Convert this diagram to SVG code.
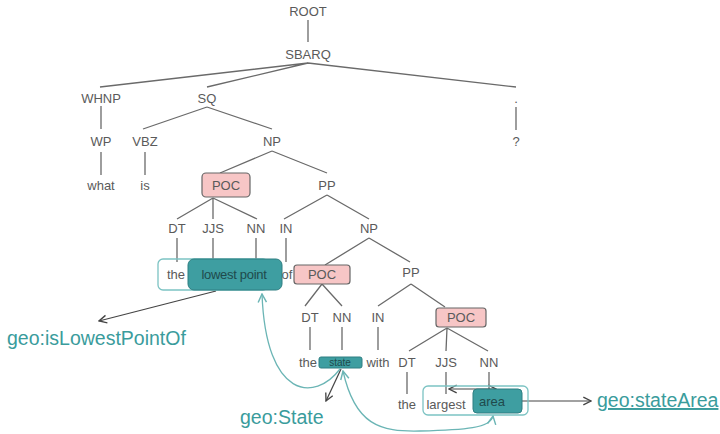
<svg xmlns="http://www.w3.org/2000/svg" width="720" height="434" viewBox="0 0 720 434">
<defs>
<style>
.t{font-family:"Liberation Sans",Arial,sans-serif;font-size:13px;fill:#5a5a5a;text-anchor:middle}
.e{stroke:#6a6a6a;stroke-width:1.3;fill:none}
.poc{fill:#f7c6c6;stroke:#666;stroke-width:1.2}
.tb{fill:#3e9ea1;stroke:#2f7f82;stroke-width:1}
.ob{fill:none;stroke:#7cc3c3;stroke-width:1.3}
.geo{font-family:"Liberation Sans",Arial,sans-serif;font-size:19.5px;fill:#3a9c9c}
.cv{fill:none;stroke:#6bb5b5;stroke-width:1.3}
.ar{fill:none;stroke:#444;stroke-width:1.2}
</style>
<marker id="ah" viewBox="0 0 10 10" refX="9" refY="5" markerWidth="8" markerHeight="8" orient="auto-start-reverse"><path d="M1,1 L9,5 L1,9" fill="none" stroke="#444" stroke-width="1.4"/></marker>
<marker id="ta" viewBox="0 0 10 10" refX="9" refY="5" markerWidth="8" markerHeight="8" orient="auto-start-reverse"><path d="M1,1 L9,5 L1,9" fill="none" stroke="#6bb5b5" stroke-width="1.4"/></marker>
</defs>
<rect width="720" height="434" fill="#fff"/>
<g id="connectors">
<path class="e" d="M308,20V42 M308,63L100,87 M308,63L207,87 M308,63L516,87 M101,106V129 M101,152V175 M207,107L143,129 M207,107L272,129 M145,152V175 M272,151L220,173 M272,151L327,173 M213,198L177,219 M213,198L213,219 M213,198L257,219 M327,195L284,219 M327,195L369,219 M177,238V262 M213,238V262 M256,238V262 M286,238V262 M369,238L325,265 M369,238L410,262 M322,284L305,306 M322,284L342,306 M310,327V350 M342,327V350 M411,284L378,306 M411,284L445,307 M378,327V350 M447,328L409,351 M447,328L446,351 M447,328L488,351 M407,372V394 M446,372V394 M489,372V394 M516,107V130"/>
<path class="ar" d="M216,291L99,321" marker-end="url(#ah)"/>
<path class="ar" d="M341,369L326,401" marker-end="url(#ah)"/>
<path class="ar" d="M522,401L591,401" marker-end="url(#ah)"/>
<path class="ar" d="M449,389L496,389" marker-start="url(#ah)" marker-end="url(#ah)"/>
<path class="cv" d="M340,369 C315,402 266,400 262,294" marker-end="url(#ta)"/>
<path class="cv" d="M343,371 C355,425 380,432 420,431 C465,430 491,428 493,416" marker-start="url(#ta)" marker-end="url(#ta)"/>
</g>
<g id="root"><text class="t" x="308" y="16">ROOT</text></g>
<g id="sbarq"><text class="t" x="308" y="59">SBARQ</text></g>
<g id="whnp"><text class="t" x="101" y="103">WHNP</text></g>
<g id="sq"><text class="t" x="207" y="103">SQ</text></g>
<g id="dot"><text class="t" x="516" y="103">.</text></g>
<g id="wp"><text class="t" x="101" y="146">WP</text></g>
<g id="vbz"><text class="t" x="145" y="146">VBZ</text></g>
<g id="np1"><text class="t" x="272" y="146">NP</text></g>
<g id="qm"><text class="t" x="516" y="146">?</text></g>
<g id="what"><text class="t" x="101" y="190">what</text></g>
<g id="is"><text class="t" x="145" y="190">is</text></g>
<g id="poc1"><rect class="poc" x="202" y="173" width="48" height="24" rx="4"/><text class="t" x="226" y="190">POC</text></g>
<g id="pp1"><text class="t" x="327" y="190">PP</text></g>
<g id="dt1"><text class="t" x="177" y="233">DT</text></g>
<g id="jjs1"><text class="t" x="213" y="233">JJS</text></g>
<g id="nn1"><text class="t" x="256" y="233">NN</text></g>
<g id="in1"><text class="t" x="286" y="233">IN</text></g>
<g id="np2"><text class="t" x="369" y="233">NP</text></g>
<g id="the1"><rect class="ob" x="158" y="259" width="110" height="31" rx="5"/><text class="t" x="176" y="279">the</text></g>
<g id="of"><text class="t" x="287" y="279">of</text></g>
<g id="lowestpoint"><rect class="tb" x="188" y="259" width="94" height="31" rx="6"/><text class="t" x="234" y="279" style="fill:#1f4a4c;letter-spacing:-0.3px">lowest point</text></g>
<g id="poc2"><rect class="poc" x="294" y="265" width="56" height="19" rx="3"/><text class="t" x="322" y="279">POC</text></g>
<g id="pp2"><text class="t" x="411" y="277">PP</text></g>
<g id="dt2"><text class="t" x="310" y="322">DT</text></g>
<g id="nn2"><text class="t" x="342" y="322">NN</text></g>
<g id="in2"><text class="t" x="378" y="322">IN</text></g>
<g id="poc3"><rect class="poc" x="436" y="308" width="50" height="19" rx="3"/><text class="t" x="461" y="322">POC</text></g>
<g id="the2"><text class="t" x="308" y="367">the</text></g>
<g id="state"><rect class="tb" x="319" y="357" width="43" height="11" rx="2"/><text class="t" x="340" y="366" style="font-size:10px;fill:#1f4a4c">state</text></g>
<g id="with"><text class="t" x="378" y="367">with</text></g>
<g id="dt3"><text class="t" x="407" y="367">DT</text></g>
<g id="jjs3"><text class="t" x="446" y="367">JJS</text></g>
<g id="nn3"><text class="t" x="489" y="367">NN</text></g>
<g id="the3"><text class="t" x="407" y="409">the</text></g>
<g id="largest"><rect class="ob" x="423" y="386" width="105" height="29" rx="5"/><text class="t" x="446" y="409">largest</text></g>
<g id="area"><rect class="tb" x="473" y="389" width="49" height="24" rx="4"/><text class="t" x="492" y="406" style="fill:#1f4a4c">area</text></g>
<g id="geo-lowest"><text class="geo" x="7" y="345">geo:isLowestPointOf</text></g>
<g id="geo-state"><text class="geo" x="240" y="424">geo:State</text></g>
<g id="geo-area"><text class="geo" x="597" y="407" text-decoration="underline">geo:stateArea</text></g>
</svg>
